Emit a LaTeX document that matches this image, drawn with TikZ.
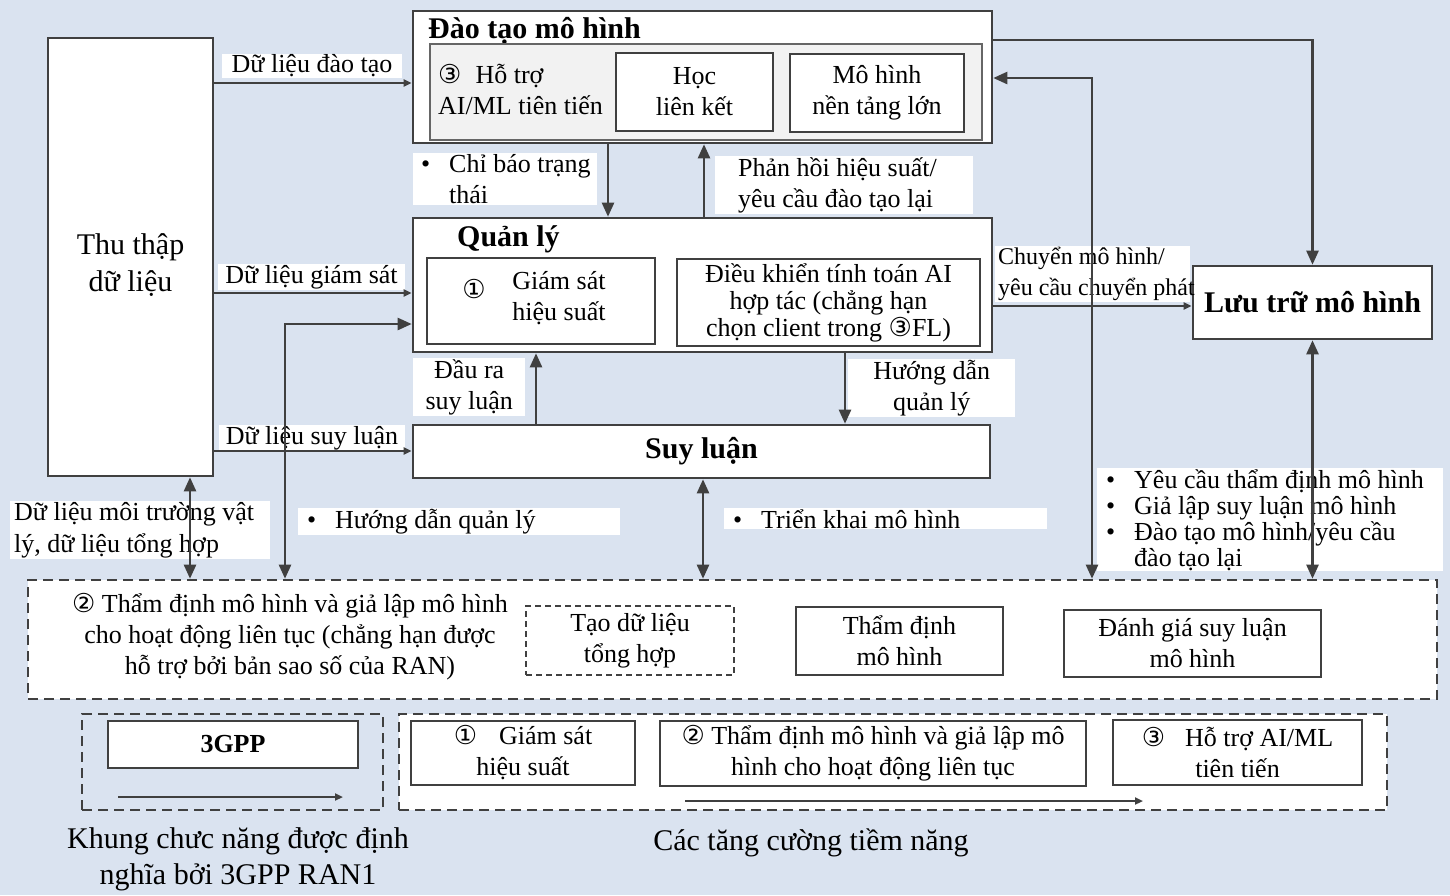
\documentclass[tikz,border=0pt]{standalone}
\usepackage{fontspec}
\setmainfont{Liberation Serif}
\newfontfamily\symfont{DejaVu Sans}
\usetikzlibrary{arrows.meta}

\definecolor{bg}{RGB}{218,227,240}
\definecolor{edge}{RGB}{64,64,64}
\definecolor{panel}{RGB}{242,242,242}

\newcommand\cnum[1]{{\symfont\fontsize{26}{26}\selectfont #1}}
\newcommand\txt{\fontsize{26}{31}\selectfont}
\newcommand\ttl{\fontsize{30}{36}\selectfont\bfseries}
\newcommand\dotitem{\makebox[33pt][l]{\hspace*{5pt}\textbullet}}

\begin{document}
\begin{tikzpicture}
  [x=1pt, y=-1pt,
   box/.style={draw=edge, line width=2.6pt, fill=white, inner sep=0},
   inbox/.style={draw=edge, line width=1.6pt, fill=white, inner sep=0},
   dashbox/.style={draw=edge, line width=2.6pt, dash pattern=on 10pt off 6pt},
   tag/.style={fill=white, inner xsep=4pt, inner ysep=1pt, font=\txt},
   word/.style={inner sep=0, font=\txt, align=center},
   arrowline/.style={draw=edge, line width=2.4pt, arrows={-Triangle[length=14pt,width=12pt]}},
   twoway/.style={draw=edge, line width=2.4pt, arrows={Triangle[length=14pt,width=12pt]-Triangle[length=14pt,width=12pt]}},
   dataline/.style={draw=edge, line width=2pt, arrows={-Triangle[length=8pt,width=7pt]}}]

  \useasboundingbox (0,0) rectangle (1450,895);
  \fill[bg] (0,0) rectangle (1450,895);

  % data collection
  \node[box, minimum width=165, minimum height=438] (collect) at (130.5,257) {};
  \node[word, font=\fontsize{30}{37}\selectfont] (collecttext) at (130.5,265) {Thu thập\\dữ liệu};

  % model training
  \node[box, minimum width=579, minimum height=132] (train) at (702.5,77) {};
  \node[font=\ttl, inner sep=0, anchor=west] (traintitle) at (428,31) {Đào tạo mô hình};
  \node[draw=edge!80, line width=1.4pt, fill=panel, minimum width=552, minimum height=96] (advanced) at (706,92) {};
  \node[word, align=left, anchor=west] (advtext) at (438,89) {\cnum{③}\hspace{14pt}Hỗ trợ\\AI/ML tiên tiến};
  \node[inbox, word, minimum width=157, minimum height=78] (fedlearn) at (694.5,92) {Học\\liên kết};
  \node[inbox, word, minimum width=174, minimum height=78] (bigmodel) at (877,93) {Mô hình\\nền tảng lớn};

  % management
  \node[box, minimum width=579, minimum height=134] (mgmt) at (702.5,285) {};
  \node[font=\ttl, inner sep=0, anchor=west] (mgmttitle) at (457,239) {Quản lý};
  \node[inbox, minimum width=228, minimum height=86] (monitor) at (541,301) {};
  \node[inner sep=0] (monnum) at (474,289) {\cnum{①}};
  \node[word] (montext) at (559,298) {Giám sát\\hiệu suất};
  \node[inbox, word, minimum width=303, minimum height=87, font=\fontsize{26}{27}\selectfont] (control) at (828.5,302.5) {Điều khiển tính toán AI\\hợp tác (chẳng hạn\\chọn client trong \cnum{③}FL)};

  % inference and storage
  \node[box, minimum width=577, minimum height=53, font=\ttl] (infer) at (701.5,451.5) {Suy luận};
  \node[box, minimum width=239, minimum height=73, font=\ttl] (store) at (1312.5,302.5) {Lưu trữ mô hình};

  % validation / simulation
  \node[dashbox, fill=white, minimum width=1409, minimum height=119] (sim) at (732.5,639.5) {};
  \node[word] (simtext) at (290,637) {\cnum{②} Thẩm định mô hình và giả lập mô hình\\cho hoạt động liên tục (chẳng hạn được\\hỗ trợ bởi bản sao số của RAN)};
  \node[word, draw=edge, line width=1.4pt, dash pattern=on 6pt off 4pt, minimum width=208, minimum height=69] (synth) at (630,640.5) {Tạo dữ liệu\\tổng hợp};
  \node[inbox, word, minimum width=207, minimum height=68] (validate) at (899.5,641) {Thẩm định\\mô hình};
  \node[inbox, word, minimum width=257, minimum height=67] (evaluate) at (1192.5,643.5) {Đánh giá suy luận\\mô hình};

  % legend
  \node[dashbox, minimum width=301, minimum height=96] (legend1) at (232.5,762) {};
  \node[box, font=\txt\bfseries, minimum width=250, minimum height=47] (gpp) at (233,744.5) {3GPP};
  \coordinate (gppa) at (118,797);
  \coordinate (gppb) at (343,797);
  \node[dashbox, fill=white, minimum width=988, minimum height=96] (legend2) at (893,762) {};
  \node[inbox, word, minimum width=224, minimum height=64] (enh1) at (523,753) {\cnum{①}\hspace{22pt}Giám sát\\hiệu suất};
  \node[inbox, word, minimum width=426, minimum height=65] (enh2) at (873,753.5) {\cnum{②} Thẩm định mô hình và giả lập mô\\hình cho hoạt động liên tục};
  \node[inbox, word, minimum width=249, minimum height=65] (enh3) at (1237.5,752.5) {\cnum{③}\hspace{20pt}Hỗ trợ AI/ML\\tiên tiến};
  \coordinate (enha) at (685,801);
  \coordinate (enhb) at (1143,801);
  \node[word, font=\fontsize{30}{36}\selectfont] (cap1) at (238,859) {Khung chưc năng được định\\nghĩa bởi 3GPP RAN1};
  \node[word, font=\fontsize{30}{36}\selectfont] (cap2) at (811,843) {Các tăng cường tiềm năng};

  % edge labels
  \node[tag, minimum width=180] (ltrain) at (312,66) {Dữ liệu đào tạo};
  \node[tag, minimum width=187] (lmon) at (311.5,277) {Dữ liệu giám sát};
  \node[tag, minimum width=186] (linfer) at (312,438) {Dữ liệu suy luận};
  \node[tag, anchor=north west, text width=252, align=flush left, font=\fontsize{26}{32}\selectfont] (lphys) at (10,501) {Dữ liệu môi trường vật\\ lý, dữ liệu tổng hợp};
  \node[tag, anchor=north west, text width=314, align=flush left] (lguide) at (298,508) {\dotitem Hướng dẫn quản lý};
  \node[tag, anchor=north west, text width=178, inner xsep=3pt, align=flush left] (lstate) at (413,153) {\dotitem Chỉ báo trạng\\\hspace*{33pt}thái};
  \node[tag, anchor=north west, text width=250, align=flush left] (lfeed) at (715,156) {\hspace*{19pt}Phản hồi hiệu suất/\\\hspace*{19pt}yêu cầu đào tạo lại};
  \node[tag, anchor=north west, text width=104, align=flush center] (lout) at (413,358) {Đầu ra\\suy luận};
  \node[tag, anchor=north west, text width=159, align=flush center] (lguide2) at (848,359) {Hướng dẫn\\quản lý};
  \node[tag, anchor=north west, text width=315, align=flush left] (ldeploy) at (724,508) {\dotitem Triển khai mô hình};
  \node[tag, anchor=north west, text width=189, inner xsep=3pt, align=flush left, font=\fontsize{24}{31}\selectfont] (ltransfer) at (995,246) {Chuyển mô hình/\\\rlap{yêu cầu chuyển phát}};
  \node[tag, anchor=north west, text width=338, align=flush left, font=\fontsize{26}{26}\selectfont] (lreq) at (1097,468) {\dotitem Yêu cầu thẩm định mô hình\\\dotitem Giả lập suy luận mô hình\\\dotitem Đào tạo mô hình/yêu cầu\\\hspace*{33pt}đào tạo lại};

  % connectors
  \draw[dataline] (collect.east |- 0,83) -- (train.west |- 0,83);
  \draw[dataline] (collect.east |- 0,293) -- (mgmt.west |- 0,293);
  \draw[dataline] (collect.east |- 0,451) -- (infer.west |- 0,451);
  \draw[twoway] (collect.south -| 190,0) -- (sim.north -| 190,0);
  \draw[twoway] (sim.north -| 285,0) |- (mgmt.west |- 0,324);
  \draw[arrowline] (train.south -| 608,0) -- (mgmt.north -| 608,0);
  \draw[arrowline] (mgmt.north -| 704,0) -- (train.south -| 704,0);
  \draw[arrowline] (infer.north -| 536,0) -- (mgmt.south -| 536,0);
  \draw[arrowline] (mgmt.south -| 845,0) -- (infer.north -| 845,0);
  \draw[twoway] (infer.south -| 703,0) -- (sim.north -| 703,0);
  \draw[arrowline] (train.east |- 0,40) -| (store.north);
  \draw[twoway] (sim.north -| 1092,0) |- (train.east |- 0,78);
  \draw[dataline] (mgmt.east |- 0,306) -- (store.west |- 0,306);
  \draw[twoway] (store.south) -- (sim.north -| store.south);
  \draw[dataline] (gppa) -- (gppb);
  \draw[dataline] (enha) -- (enhb);
\end{tikzpicture}
\end{document}
